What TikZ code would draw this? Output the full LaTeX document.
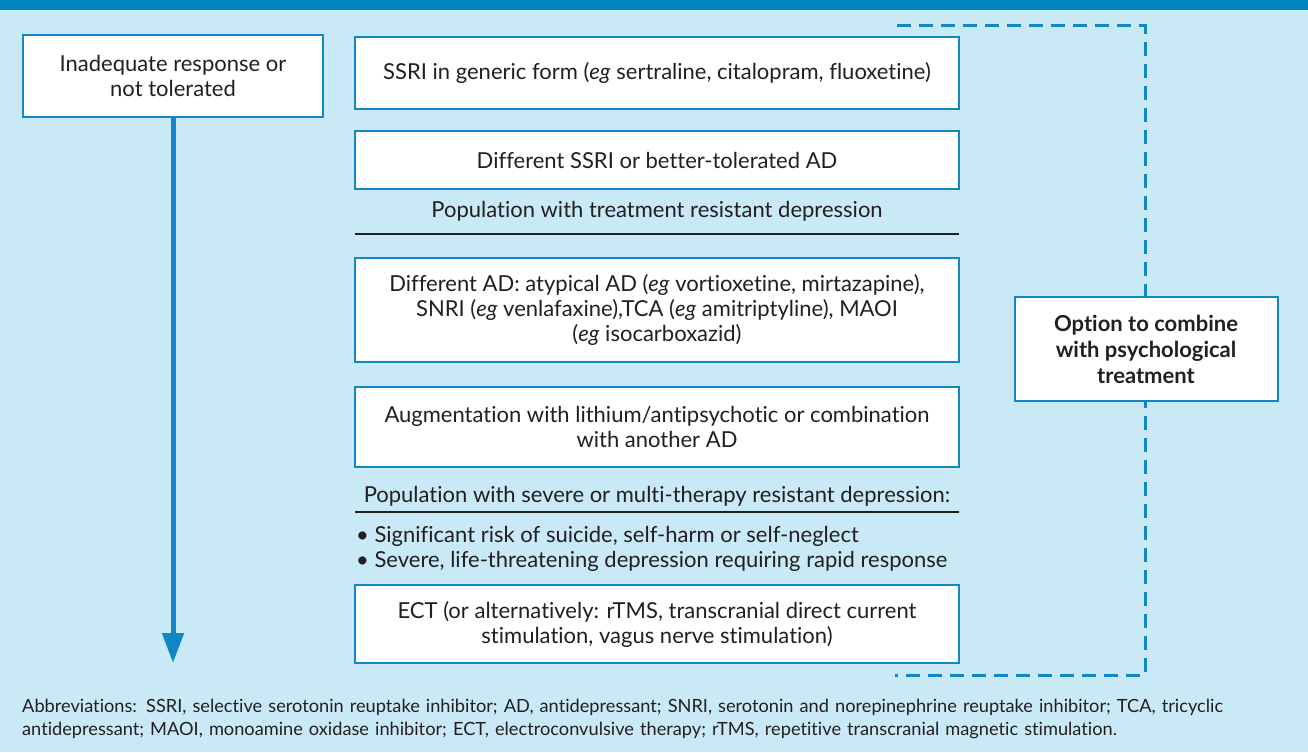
\documentclass[tikz,border=0pt]{standalone}
\usepackage{fontspec}
\setmainfont[Ligatures=NoCommon]{Lato}
\usetikzlibrary{arrows.meta}
\definecolor{bg}{HTML}{CAE9F6}
\definecolor{bar}{HTML}{0085C3}
\definecolor{bblue}{HTML}{1287C8}
\definecolor{txt}{HTML}{231F20}
\begin{document}
\begin{tikzpicture}[x=1pt,y=-1pt,
  box/.style={draw=bblue, line width=2pt, fill=white, align=center, text=txt, inner sep=0pt,
    font=\fontsize{22}{25}\selectfont},
  midbox/.style={box, minimum width=604pt},
  plain/.style={align=center, text=txt, inner sep=0pt, font=\fontsize{22}{25}\selectfont},
  rule/.style={draw=txt, line width=2.6pt},
  dashline/.style={draw=bblue, line width=3pt, dash pattern=on 14pt off 8pt},
  flow/.style={draw=bblue, line width=5pt, -{Triangle[length=30pt,width=21pt]}}]
\fill[bg] (0,0) rectangle (1308,752);
\fill[bar] (0,0) rectangle (1308,10);
\useasboundingbox (0,0) rectangle (1308,752);

% dashed bracket
\coordinate (d1) at (897,26);
\coordinate (d2) at (1145,26);
\coordinate (d3) at (1145,675);
\coordinate (d4) at (895,675);
\draw[dashline] (d1) -- (d2) -- (d3) -- (d4);

% left box and arrow
\node[box, minimum width=300pt, minimum height=82pt] (inad) at (173,76)
  {Inadequate response or\\not tolerated};
\coordinate (aend) at (173,663);
\draw[flow] (inad.south) -- (aend);

% middle column
\node[midbox, minimum height=72pt] (b1) at (657,73)
  {SSRI in generic form (\textit{eg} sertraline, citalopram, fluoxetine)};
\node[midbox, minimum height=58pt] (b2) at (657,160)
  {Different SSRI or better-tolerated AD};
\node[plain] (p1) at (657,211) {Population with treatment resistant depression};
\draw[rule] (355,234) -- (959,234);
\node[midbox, minimum height=104pt] (b3) at (657,310)
  {Different AD: atypical AD (\textit{eg} vortioxetine, mirtazapine),\\
   SNRI (\textit{eg} venlafaxine),TCA (\textit{eg} amitriptyline), MAOI\\
   (\textit{eg} isocarboxazid)};
\node[midbox, minimum height=80pt] (b4) at (657,427)
  {Augmentation with lithium/antipsychotic or combination\\with another AD};
\node[plain] (p2) at (657,496) {Population with severe or multi-therapy resistant depression:};
\draw[rule] (355,512) -- (959,512);
\node[plain, align=left, anchor=west] (bul) at (356,549)
  {• Significant risk of suicide, self-harm or self-neglect\\
   • Severe, life-threatening depression requiring rapid response};
\node[midbox, minimum height=78pt] (b5) at (657,624)
  {ECT (or alternatively: rTMS, transcranial direct current\\stimulation, vagus nerve stimulation)};

% option box
\node[box, minimum width=263pt, minimum height=104pt, font=\fontsize{22}{26}\selectfont\bfseries] (opt) at (1146,349)
  {Option to combine\\with psychological\\treatment};

% abbreviations
\node[plain, align=left, anchor=north west, text width=1285pt, font=\fontsize{18.2}{23}\selectfont] (abbr) at (22,699)
  {Abbreviations: SSRI, selective serotonin reuptake inhibitor; AD, antidepressant; SNRI, serotonin and norepinephrine reuptake inhibitor; TCA, tricyclic\\
   antidepressant; MAOI, monoamine oxidase inhibitor; ECT, electroconvulsive therapy; rTMS, repetitive transcranial magnetic stimulation.};
\end{tikzpicture}
\end{document}
